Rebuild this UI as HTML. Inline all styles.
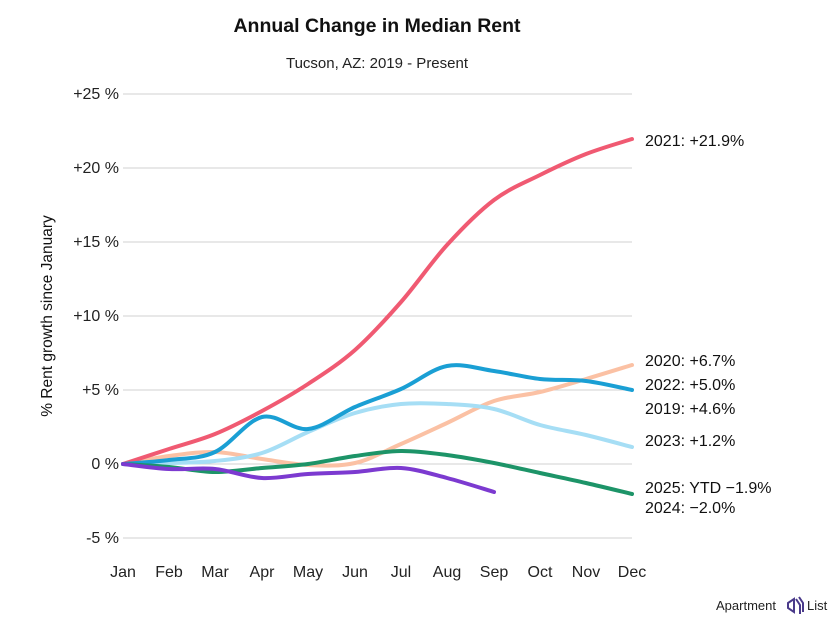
<!DOCTYPE html>
<html><head><meta charset="utf-8"><style>
body{margin:0;background:#fff;width:835px;height:626px;overflow:hidden;font-family:"Liberation Sans",sans-serif}
</style></head><body>
<svg id="s" width="835" height="626" xmlns="http://www.w3.org/2000/svg" font-family="Liberation Sans, sans-serif">
<text x="377" y="32" text-anchor="middle" font-size="19.5" font-weight="bold" fill="#111">Annual Change in Median Rent</text>
<text x="377" y="68" text-anchor="middle" font-size="15" fill="#222">Tucson, AZ: 2019 - Present</text>
<g stroke="#d0d0d0" stroke-width="1">
<line x1="123" x2="632" y1="94" y2="94"/><line x1="123" x2="632" y1="168" y2="168"/><line x1="123" x2="632" y1="242" y2="242"/><line x1="123" x2="632" y1="316" y2="316"/><line x1="123" x2="632" y1="390" y2="390"/><line x1="123" x2="632" y1="464" y2="464"/><line x1="123" x2="632" y1="538" y2="538"/>
</g>
<g font-size="16" fill="#222" text-anchor="end">
<text x="119" y="99">+25 %</text><text x="119" y="173">+20 %</text><text x="119" y="247">+15 %</text><text x="119" y="321">+10 %</text><text x="119" y="395">+5 %</text><text x="119" y="469">0 %</text><text x="119" y="543">-5 %</text>
</g>
<text transform="translate(52,316) rotate(-90)" text-anchor="middle" font-size="15.5" fill="#111">% Rent growth since January</text>
<g font-size="16" fill="#222" text-anchor="middle" id="xl"></g>
<g id="lines" fill="none" stroke-width="4" stroke-linecap="round"></g>
<g font-size="16" fill="#111">
<text x="645" y="146">2021: +21.9%</text>
<text x="645" y="366">2020: +6.7%</text>
<text x="645" y="390">2022: +5.0%</text>
<text x="645" y="414">2019: +4.6%</text>
<text x="645" y="446">2023: +1.2%</text>
<text x="645" y="493">2025: YTD −1.9%</text>
<text x="645" y="513">2024: −2.0%</text>
</g>
<text x="716" y="610" font-size="13" fill="#222">Apartment</text>
<g transform="translate(786,597)" fill="none" stroke="#4a3a8a" stroke-width="2"><path d="M2 6 L8 2 L8 15 L2 11 Z"/><path d="M10 2 L14 8 L14 17"/><path d="M13 0 L17 6 L17 15"/></g>
<text x="807" y="610" font-size="13" fill="#222">List</text>
</svg>
<script>
var xs=[123,169,215,262,308,355,401,447,494,540,586,632];
var names=["Jan","Feb","Mar","Apr","May","Jun","Jul","Aug","Sep","Oct","Nov","Dec"];
var ns="http://www.w3.org/2000/svg";
var xl=document.getElementById("xl");
names.forEach(function(n,i){var t=document.createElementNS(ns,"text");t.setAttribute("x",xs[i]);t.setAttribute("y",577);t.textContent=n;xl.appendChild(t);});
var series=[
["#fbc1a4",[464,456,452,459,465,463,444,423,401,392,379,365]],
["#a6def5",[464,463,461,453,432,413,404,404,409,425,435,447]],
["#f05a72",[464,449,434,411,384,350,302,245,200,175,154,139]],
["#1a9fd4",[464,460,452,417,429,407,389,366,371,379,381,390]],
["#1d9468",[464,467,472,468,464,456,451,455,463,473,483,494]],
["#7c3ad0",[464,469,469,478,474,472,468,478,492]]
];
var g=document.getElementById("lines");
series.forEach(function(s){
var y=s[1],d="M"+xs[0]+","+y[0];
for(var i=0;i<y.length-1;i++){
var x0=xs[Math.max(i-1,0)],y0=y[Math.max(i-1,0)],x1=xs[i],y1=y[i],x2=xs[i+1],y2=y[i+1],x3=xs[Math.min(i+2,y.length-1)],y3=y[Math.min(i+2,y.length-1)];
d+=" C"+(x1+(x2-x0)/6)+","+(y1+(y2-y0)/6)+" "+(x2-(x3-x1)/6)+","+(y2-(y3-y1)/6)+" "+x2+","+y2;}
var p=document.createElementNS(ns,"path");p.setAttribute("d",d);p.setAttribute("stroke",s[0]);g.appendChild(p);});
</script>
</body></html>
